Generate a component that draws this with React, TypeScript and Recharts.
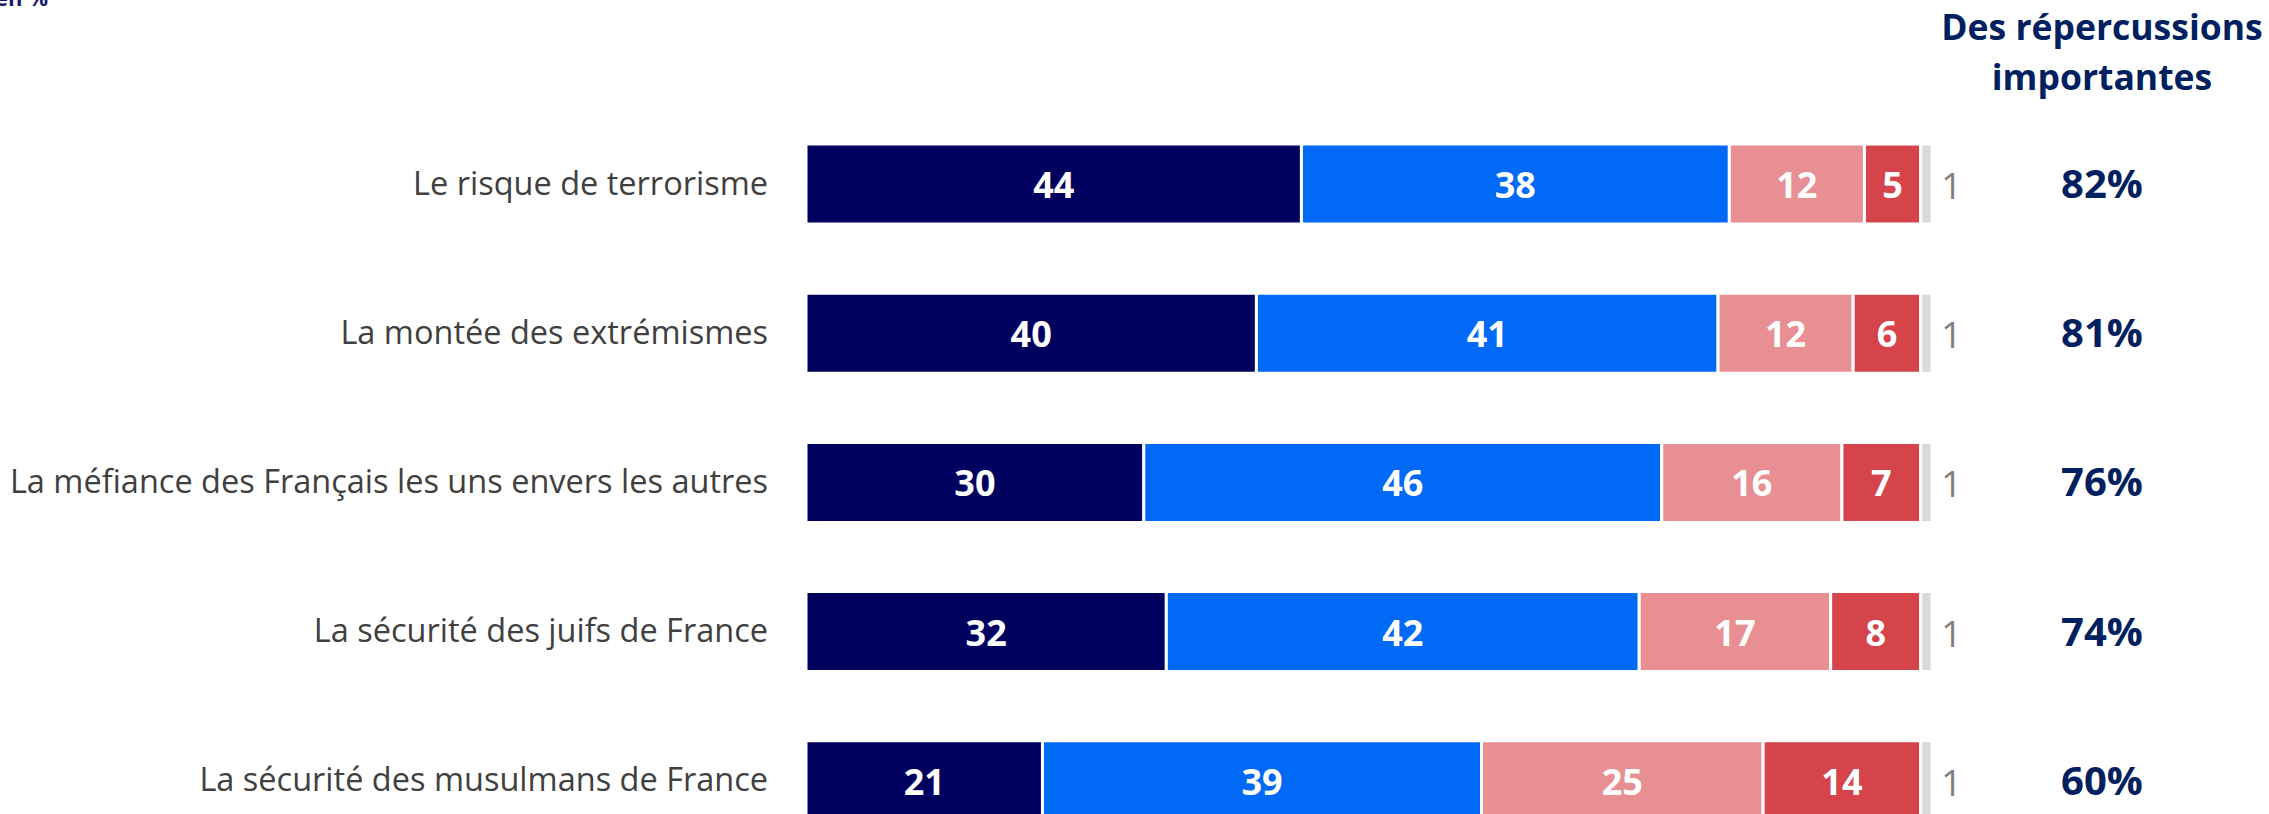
import React from 'react';
import { BarChart, Bar, XAxis, YAxis, LabelList } from 'recharts';

const categories = [
  'Le risque de terrorisme',
  'La montée des extrémismes',
  'La méfiance des Français les uns envers les autres',
  'La sécurité des juifs de France',
  'La sécurité des musulmans de France',
];
const tresImportantes = [44, 40, 30, 32, 21];
const assezImportantes = [38, 41, 46, 42, 39];
const peuImportantes = [12, 12, 16, 17, 25];
const aucune = [5, 6, 7, 8, 14];
const nsp = [1, 1, 1, 1, 1];
const totalImportantes = [82, 81, 76, 74, 60];

const data = categories.map((name, i) => ({
  name,
  tres: tresImportantes[i],
  assez: assezImportantes[i],
  peu: peuImportantes[i],
  aucune: aucune[i],
  nsp: nsp[i],
  total: totalImportantes[i],
}));

const FONT = "'Open Sans', sans-serif";
const NAVY = '#002060';

const CategoryTick = (props: any) => {
  const { x, y, payload } = props;
  return (
    <text x={x} y={y + 11} textAnchor="end" fontSize={32.5} fill="#404040" fontFamily={FONT}>
      {payload.value}
    </text>
  );
};

const InnerLabel = (props: any) => {
  const { x, y, width, height, value } = props;
  return (
    <text
      x={x + width / 2}
      y={y + height / 2 + 14}
      textAnchor="middle"
      fontSize={36}
      fontWeight={700}
      fill="#ffffff"
      fontFamily={FONT}
    >
      {value}
    </text>
  );
};

const EndLabel = (props: any) => {
  const { x, y, width, height, value, index } = props;
  const cy = y + height / 2;
  return (
    <g>
      <text x={x + width + 9} y={cy + 15} fontSize={37} fill="#7f7f7f" fontFamily={FONT}>
        {value}
      </text>
      <text
        x={x + width + 170}
        y={cy + 14}
        textAnchor="middle"
        fontSize={40}
        fontWeight={700}
        fill={NAVY}
        fontFamily={FONT}
      >
        {totalImportantes[index]}%
      </text>
    </g>
  );
};

export default function App() {
  return (
    <div style={{ position: 'absolute', left: 0, top: 0, width: 2269, height: 814, overflow: 'hidden', background: '#fff' }}>
      <BarChart
        width={2269}
        height={860}
        data={data}
        layout="vertical"
        margin={{ top: 109, right: 337, bottom: 5, left: 0 }}
      >
        <XAxis type="number" domain={[0, 100]} hide />
        <YAxis
          type="category"
          dataKey="name"
          width={806}
          axisLine={false}
          tickLine={false}
          tickSize={0}
          tickMargin={38}
          tick={<CategoryTick />}
          interval={0}
        />
        <Bar dataKey="tres" name="Des répercussions très importantes" stackId="a" fill="#00005e" stroke="#fff" strokeWidth={3} barSize={80} isAnimationActive={false}>
          <LabelList dataKey="tres" content={<InnerLabel />} />
        </Bar>
        <Bar dataKey="assez" name="Des répercussions assez importantes" stackId="a" fill="#0069f5" stroke="#fff" strokeWidth={3} barSize={80} isAnimationActive={false}>
          <LabelList dataKey="assez" content={<InnerLabel />} />
        </Bar>
        <Bar dataKey="peu" name="Des répercussions peu importantes" stackId="a" fill="#e88f93" stroke="#fff" strokeWidth={3} barSize={80} isAnimationActive={false}>
          <LabelList dataKey="peu" content={<InnerLabel />} />
        </Bar>
        <Bar dataKey="aucune" name="Aucune répercussion" stackId="a" fill="#d5444b" stroke="#fff" strokeWidth={3} barSize={80} isAnimationActive={false}>
          <LabelList dataKey="aucune" content={<InnerLabel />} />
        </Bar>
        <Bar dataKey="nsp" name="Ne se prononce pas" stackId="a" fill="#d9d9d9" stroke="#fff" strokeWidth={3} barSize={80} isAnimationActive={false}>
          <LabelList dataKey="nsp" content={<EndLabel />} />
        </Bar>
      </BarChart>
      <svg width={2269} height={814} style={{ position: 'absolute', left: 0, top: 0, pointerEvents: 'none' }}>
        <text x={48} y={6} textAnchor="end" fontSize={22} fontWeight={700} fill="#1c1c73" fontFamily={FONT}>
          en %
        </text>
        <text x={2102} y={40} textAnchor="middle" fontSize={35.5} fontWeight={700} fill={NAVY} fontFamily={FONT}>
          Des répercussions
        </text>
        <text x={2102} y={90} textAnchor="middle" fontSize={35.5} fontWeight={700} fill={NAVY} fontFamily={FONT}>
          importantes
        </text>
      </svg>
    </div>
  );
}
